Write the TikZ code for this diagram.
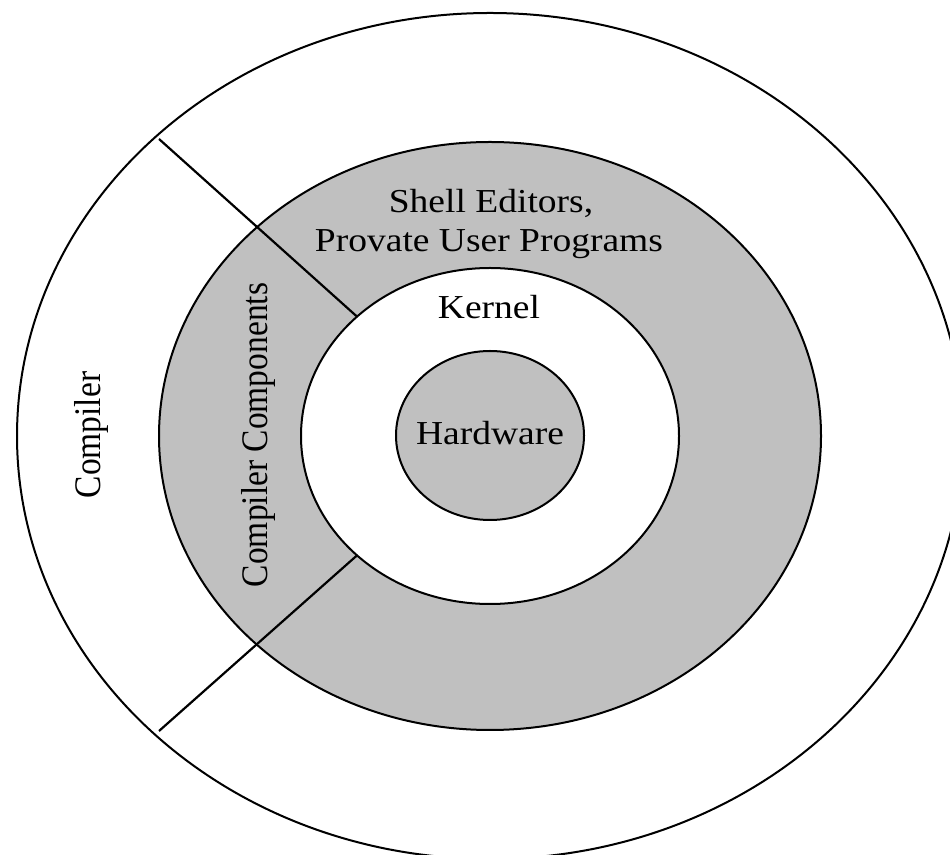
\documentclass[tikz,border=0pt]{standalone}
\usepackage{fontspec}
\setmainfont{Liberation Serif}
\usepackage{graphicx}
\definecolor{ringgray}{RGB}{192,192,192}
\tikzset{
  ring/.style={draw=black, line width=2pt},
  divider/.style={draw=black, line width=2.2pt},
  lbl/.style={font=\fontsize{33.5}{40}\selectfont, inner sep=0pt, xscale=1.12},
}
\begin{document}
\begin{tikzpicture}[x=1pt, y=1pt]
  \useasboundingbox (0,0) rectangle (950,854);
  \clip (0,0) rectangle (950,854);

  % centre of the nested rings
  \coordinate (c) at (490,418);

  % rings, from the outside in
  \draw[ring, fill=white]    (c) ellipse [x radius=473, y radius=423];
  \draw[ring, fill=ringgray] (c) ellipse [x radius=331, y radius=294];
  \draw[ring, fill=white]    (c) ellipse [x radius=189, y radius=168];
  \draw[ring, fill=ringgray] (490,418.5) ellipse [x radius=94, y radius=84.5];

  % ends of the two dividing lines
  \coordinate (upin)  at (357,537.4);
  \coordinate (upout) at (159,715);
  \coordinate (lowin)  at (357,298.6);
  \coordinate (lowout) at (159,123);

  \draw[divider] (upin) -- (upout);
  \draw[divider] (lowin) -- (lowout);

  % labels
  \node[lbl, anchor=base] (shell) at (491,641) {Shell Editors,};
  \node[lbl, anchor=base] (user)  at (489,602) {Provate User Programs};
  \node[lbl, anchor=base] (kern)  at (489,535) {Kernel};
  \node[lbl, anchor=base] (hw)    at (490,409) {Hardware};
  \node[lbl, rotate=90, anchor=base] (comp)  at (100,419) {Compiler};
  \node[lbl, rotate=90, anchor=base] (compc) at (267,419) {Compiler Components};
\end{tikzpicture}
\end{document}
